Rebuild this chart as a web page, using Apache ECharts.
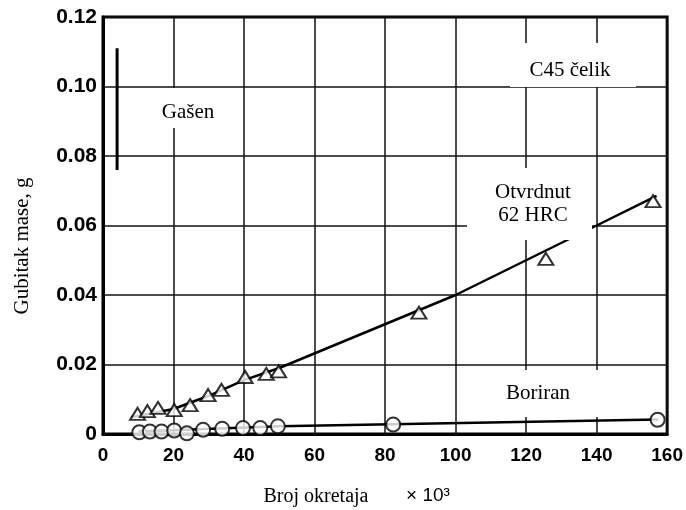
<!DOCTYPE html>
<html><head><meta charset="utf-8">
<script src="https://cdn.jsdelivr.net/npm/echarts@6/dist/echarts.min.js"></script>
<style>html,body{margin:0;padding:0;background:#fff}#c{width:686px;height:510px}</style>
</head><body><div id="c"></div>
<script>
// Data (x in 10^3 revolutions, y in g)
const xTicks = [0, 20, 40, 60, 80, 100, 120, 140, 160];
const yTicks = [0, 0.02, 0.04, 0.06, 0.08, 0.10, 0.12];
const hardX = [9.8, 12.6, 15.6, 20.2, 24.7, 29.8, 33.6, 40.3, 46.3, 49.8, 89.6, 125.6, 156];
const hardY = [0.0058, 0.0066, 0.0075, 0.0069, 0.0083, 0.0112, 0.0127, 0.0164, 0.0173, 0.018, 0.0349, 0.0504, 0.067];
const hardFitX = [8, 20, 30, 40, 50, 100, 140, 157];
const hardFitY = [0.0048, 0.0072, 0.011, 0.0155, 0.019, 0.040, 0.060, 0.0685];
const borX = [10.3, 13.3, 16.6, 20.2, 23.8, 28.4, 33.8, 39.7, 44.6, 49.6, 82.3, 157.3];
const borY = [0.0005, 0.0007, 0.0007, 0.001, 0.0002, 0.0012, 0.0015, 0.0017, 0.0017, 0.0022, 0.0027, 0.0041];
const borFitX = [10, 50, 157.5];
const borFitY = [0.0007, 0.0022, 0.0042];
const gasenX = [4, 4];
const gasenY = [0.111, 0.076];

const zip = (a, b) => a.map((v, i) => [v, b[i]]);
const chart = echarts.init(document.getElementById('c'));
const serif = '"Liberation Serif", "DejaVu Serif", serif';
const sans = '"Liberation Sans", Arial, sans-serif';

function box(x, y, w, h) {
  return { type: 'rect', z: 100, shape: { x: x, y: y, width: w, height: h }, style: { fill: '#fff' } };
}
function txt(x, y, t, size, font, rot) {
  return { type: 'text', z: 101, x: x, y: y, rotation: rot || 0,
    style: { text: t, fill: '#000', font: size + 'px ' + font, textAlign: 'center', textVerticalAlign: 'middle' } };
}

chart.setOption({
  animation: false,
  backgroundColor: '#fff',
  grid: { left: 103, top: 17, right: 17, bottom: 76, show: true, borderColor: '#000', borderWidth: 3, backgroundColor: 'transparent' },
  xAxis: {
    type: 'value', min: 0, max: 160, interval: 20,
    axisLine: { show: true, lineStyle: { color: '#000', width: 3 } },
    axisTick: { show: false },
    axisLabel: { color: '#000', fontFamily: sans, fontWeight: 'bold', fontSize: 19, margin: 12 },
    splitLine: { show: true, lineStyle: { color: '#111', width: 1.5 } }
  },
  yAxis: {
    type: 'value', min: 0, max: 0.12, interval: 0.02,
    axisLine: { show: true, lineStyle: { color: '#000', width: 3 } },
    axisTick: { show: false },
    axisLabel: { color: '#000', fontFamily: sans, fontWeight: 'bold', fontSize: 21, margin: 6,
      formatter: v => v === 0 ? '0' : v.toFixed(2) },
    splitLine: { show: true, lineStyle: { color: '#111', width: 1.5 } }
  },
  series: [
    { type: 'line', data: zip(hardFitX, hardFitY), symbol: 'none', lineStyle: { color: '#000', width: 2.5 }, z: 3 },
    { type: 'line', data: zip(borFitX, borFitY), symbol: 'none', lineStyle: { color: '#000', width: 2.5 }, z: 3 },
    { type: 'line', data: zip(gasenX, gasenY), symbol: 'none', lineStyle: { color: '#000', width: 3 }, z: 3 },
    { type: 'scatter', data: zip(borX, borY), symbol: 'circle', symbolSize: 14,
      itemStyle: { color: '#fff', borderColor: '#000', borderWidth: 2 }, z: 4 },
    { type: 'scatter', data: zip(hardX, hardY), symbol: 'triangle', symbolSize: [15, 12],
      itemStyle: { color: '#fff', borderColor: '#000', borderWidth: 2 }, z: 5 }
  ],
  graphic: [
    box(120, 88, 120, 40), txt(188, 112, 'Gašen', 21, serif),
    box(510, 43, 126, 44), txt(570, 70, 'C45 čelik', 21, serif),
    box(467, 168, 125, 72), txt(533, 192, 'Otvrdnut', 21, serif), txt(533, 215, '62 HRC', 21, serif),
    box(460, 370, 138, 47), txt(538, 393, 'Boriran', 21, serif),
    txt(22, 246, 'Gubitak mase, g', 21, serif, Math.PI / 2),
    txt(316, 497, 'Broj okretaja', 20, serif),
    txt(428, 496, '× 10³', 19, sans)
  ]
});
</script></body></html>
